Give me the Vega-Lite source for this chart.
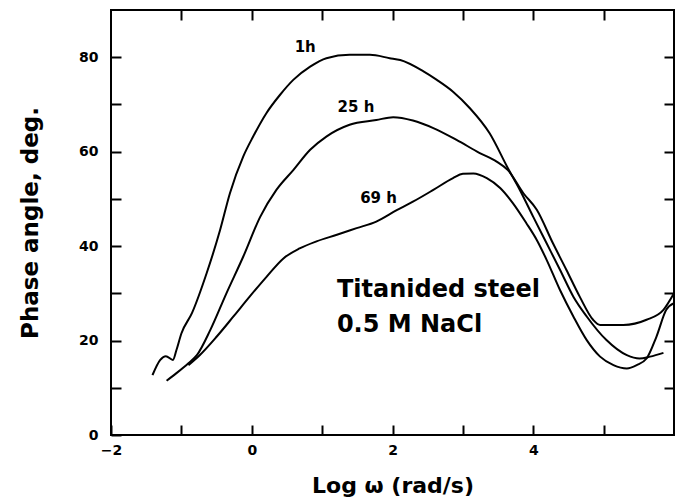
{
  "$schema": "https://vega.github.io/schema/vega-lite/v6.json",
  "width": 563,
  "height": 425,
  "autosize": {"type": "none"},
  "padding": {"left": 111, "top": 10, "right": 2, "bottom": 66},
  "background": "white",
  "config": {
    "view": {"stroke": "black", "strokeWidth": 2},
    "axis": {
      "domain": false,
      "grid": false,
      "tickColor": "black",
      "tickWidth": 2,
      "tickSize": -10,
      "labelFont": "DejaVu Sans",
      "labelFontWeight": "bold",
      "labelFontSize": 14,
      "labelColor": "black",
      "labelOverlap": false,
      "labelFlush": false,
      "titleFont": "DejaVu Sans",
      "titleFontWeight": "bold",
      "titleColor": "black"
    }
  },
  "datasets": {
    "curves": [
      {"s": "1h", "x": -1.41, "y": 12.7}, {"s": "1h", "x": -1.30, "y": 15.9}, {"s": "1h", "x": -1.22, "y": 16.7}, {"s": "1h", "x": -1.12, "y": 15.9}, {"s": "1h", "x": -1.07, "y": 18.0}, {"s": "1h", "x": -1.00, "y": 21.5}, {"s": "1h", "x": -0.85, "y": 25.8}, {"s": "1h", "x": -0.64, "y": 34.3}, {"s": "1h", "x": -0.45, "y": 43.4}, {"s": "1h", "x": -0.31, "y": 51.2}, {"s": "1h", "x": -0.12, "y": 59.0}, {"s": "1h", "x": 0.02, "y": 63.2}, {"s": "1h", "x": 0.21, "y": 68.2}, {"s": "1h", "x": 0.40, "y": 72.0}, {"s": "1h", "x": 0.59, "y": 75.2}, {"s": "1h", "x": 0.83, "y": 78.0}, {"s": "1h", "x": 1.06, "y": 79.8}, {"s": "1h", "x": 1.39, "y": 80.5}, {"s": "1h", "x": 1.68, "y": 80.5}, {"s": "1h", "x": 1.96, "y": 79.8}, {"s": "1h", "x": 2.11, "y": 79.4}, {"s": "1h", "x": 2.44, "y": 77.0}, {"s": "1h", "x": 2.63, "y": 75.2}, {"s": "1h", "x": 2.86, "y": 72.7}, {"s": "1h", "x": 3.10, "y": 69.2}, {"s": "1h", "x": 3.38, "y": 63.9}, {"s": "1h", "x": 3.64, "y": 56.5}, {"s": "1h", "x": 3.81, "y": 51.9}, {"s": "1h", "x": 4.00, "y": 46.2}, {"s": "1h", "x": 4.19, "y": 40.6}, {"s": "1h", "x": 4.38, "y": 35.0}, {"s": "1h", "x": 4.57, "y": 29.3}, {"s": "1h", "x": 4.76, "y": 25.1}, {"s": "1h", "x": 5.04, "y": 20.1}, {"s": "1h", "x": 5.33, "y": 16.9}, {"s": "1h", "x": 5.51, "y": 16.2}, {"s": "1h", "x": 5.66, "y": 16.6}, {"s": "1h", "x": 5.85, "y": 17.4},
      {"s": "25h", "x": -1.21, "y": 11.5}, {"s": "25h", "x": -1.07, "y": 13.1}, {"s": "25h", "x": -0.90, "y": 15.2}, {"s": "25h", "x": -0.78, "y": 16.9}, {"s": "25h", "x": -0.59, "y": 22.2}, {"s": "25h", "x": -0.36, "y": 30.0}, {"s": "25h", "x": -0.12, "y": 37.8}, {"s": "25h", "x": 0.12, "y": 46.2}, {"s": "25h", "x": 0.35, "y": 51.9}, {"s": "25h", "x": 0.59, "y": 56.1}, {"s": "25h", "x": 0.83, "y": 60.4}, {"s": "25h", "x": 1.06, "y": 63.2}, {"s": "25h", "x": 1.39, "y": 65.7}, {"s": "25h", "x": 1.77, "y": 66.7}, {"s": "25h", "x": 2.01, "y": 67.3}, {"s": "25h", "x": 2.29, "y": 66.6}, {"s": "25h", "x": 2.58, "y": 65.0}, {"s": "25h", "x": 2.91, "y": 62.5}, {"s": "25h", "x": 3.24, "y": 59.7}, {"s": "25h", "x": 3.48, "y": 57.9}, {"s": "25h", "x": 3.64, "y": 56.1}, {"s": "25h", "x": 3.86, "y": 51.2}, {"s": "25h", "x": 4.05, "y": 47.7}, {"s": "25h", "x": 4.28, "y": 40.6}, {"s": "25h", "x": 4.47, "y": 35.0}, {"s": "25h", "x": 4.66, "y": 29.3}, {"s": "25h", "x": 4.85, "y": 24.4}, {"s": "25h", "x": 4.95, "y": 23.3}, {"s": "25h", "x": 5.28, "y": 23.3}, {"s": "25h", "x": 5.61, "y": 24.4}, {"s": "25h", "x": 5.85, "y": 26.5}, {"s": "25h", "x": 6.0, "y": 30.0},
      {"s": "69h", "x": -0.90, "y": 14.8}, {"s": "69h", "x": -0.74, "y": 16.9}, {"s": "69h", "x": -0.50, "y": 20.8}, {"s": "69h", "x": -0.26, "y": 25.1}, {"s": "69h", "x": -0.03, "y": 29.3}, {"s": "69h", "x": 0.21, "y": 33.5}, {"s": "69h", "x": 0.45, "y": 37.4}, {"s": "69h", "x": 0.68, "y": 39.5}, {"s": "69h", "x": 0.92, "y": 41.0}, {"s": "69h", "x": 1.21, "y": 42.4}, {"s": "69h", "x": 1.49, "y": 43.8}, {"s": "69h", "x": 1.77, "y": 45.2}, {"s": "69h", "x": 2.06, "y": 47.6}, {"s": "69h", "x": 2.29, "y": 49.4}, {"s": "69h", "x": 2.58, "y": 51.9}, {"s": "69h", "x": 2.86, "y": 54.4}, {"s": "69h", "x": 3.00, "y": 55.3}, {"s": "69h", "x": 3.15, "y": 55.4}, {"s": "69h", "x": 3.34, "y": 54.4}, {"s": "69h", "x": 3.53, "y": 52.3}, {"s": "69h", "x": 3.71, "y": 49.1}, {"s": "69h", "x": 3.90, "y": 44.9}, {"s": "69h", "x": 4.05, "y": 41.3}, {"s": "69h", "x": 4.19, "y": 37.1}, {"s": "69h", "x": 4.38, "y": 30.7}, {"s": "69h", "x": 4.57, "y": 25.1}, {"s": "69h", "x": 4.76, "y": 20.1}, {"s": "69h", "x": 4.95, "y": 16.6}, {"s": "69h", "x": 5.14, "y": 14.8}, {"s": "69h", "x": 5.33, "y": 14.1}, {"s": "69h", "x": 5.47, "y": 14.8}, {"s": "69h", "x": 5.61, "y": 16.2}, {"s": "69h", "x": 5.75, "y": 20.8}, {"s": "69h", "x": 5.89, "y": 26.5}, {"s": "69h", "x": 6.0, "y": 27.9}
    ],
    "labels": [
      {"x": 0.61, "y": 81.2, "t": "1h", "size": 15},
      {"x": 1.22, "y": 68.5, "t": "25 h", "size": 15},
      {"x": 1.54, "y": 49.2, "t": "69 h", "size": 15},
      {"x": 1.21, "y": 29.2, "t": "Titanided steel", "size": 24},
      {"x": 1.21, "y": 21.8, "t": "0.5 M NaCl", "size": 24}
    ]
  },
  "layer": [
    {
      "data": {"name": "curves"},
      "mark": {"type": "line", "color": "black", "strokeWidth": 2, "clip": true, "interpolate": "monotone"},
      "encoding": {
        "x": {
          "field": "x", "type": "quantitative",
          "scale": {"domain": [-2, 6], "nice": false, "zero": false},
          "axis": {
            "orient": "bottom",
            "values": [-2, -1, 0, 1, 2, 3, 4, 5],
            "labelExpr": "datum.value % 2 == 0 ? datum.label : ''",
            "labelPadding": 18,
            "title": "Log ω (rad/s)",
            "titleFontSize": 22,
            "titlePadding": 18
          }
        },
        "y": {
          "field": "y", "type": "quantitative",
          "scale": {"domain": [0, 90], "nice": false},
          "axis": {
            "orient": "left",
            "values": [0, 10, 20, 30, 40, 50, 60, 70, 80],
            "labelExpr": "datum.value % 20 == 0 ? datum.label : ''",
            "labelPadding": 23,
            "title": "Phase angle, deg.",
            "titleFontSize": 23,
            "titlePadding": 36
          }
        },
        "detail": {"field": "s", "type": "nominal"}
      }
    },
    {
      "data": {"name": "curves"},
      "mark": {"type": "line", "opacity": 0},
      "encoding": {
        "x": {
          "field": "x", "type": "quantitative",
          "scale": {"domain": [-2, 6], "nice": false, "zero": false},
          "axis": {"orient": "top", "values": [-1, 0, 1, 2, 3, 4, 5], "labels": false, "title": null}
        },
        "y": {
          "field": "y", "type": "quantitative",
          "scale": {"domain": [0, 90], "nice": false},
          "axis": {"orient": "right", "values": [10, 20, 30, 40, 50, 60, 70, 80], "labels": false, "title": null}
        },
        "detail": {"field": "s", "type": "nominal"}
      }
    },
    {
      "data": {"name": "labels"},
      "mark": {"type": "text", "align": "left", "baseline": "alphabetic", "font": "DejaVu Sans", "fontWeight": "bold", "color": "black"},
      "encoding": {
        "x": {"field": "x", "type": "quantitative", "axis": null},
        "y": {"field": "y", "type": "quantitative", "axis": null},
        "text": {"field": "t", "type": "nominal"},
        "size": {"field": "size", "type": "quantitative", "scale": null, "legend": null}
      }
    }
  ],
  "resolve": {"axis": {"x": "independent", "y": "independent"}}
}
